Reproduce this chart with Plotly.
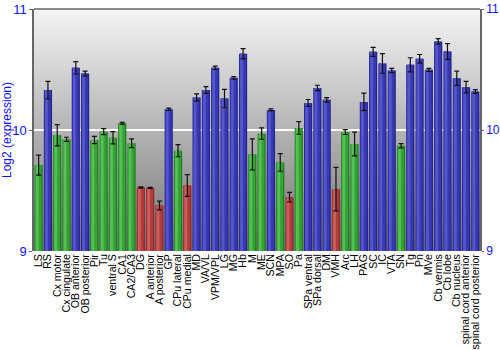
import base64
import plotly.graph_objects as go

# Brain regions along the x axis
regions = [
    "LS", "RS", "Cx motor", "Cx cingulate", "OB anterior", "OB posterior",
    "Pir", "Tu", "ventral S", "CA1", "CA2/CA3", "DG", "A anterior",
    "A posterior", "GP", "CPu lateral", "CPu medial", "MD", "VA/VL",
    "VPM/VPL", "LG", "MG", "Hb", "M", "ME", "SCN", "MPA", "SO", "Pa",
    "SPa ventral", "SPa dorsal", "DM", "VMH", "Arc", "LH", "PAG", "SC", "IC",
    "VTA", "SN", "Tg", "Pn", "MVe", "Cb vermis", "Cb lobe", "Cb nucleus",
    "spinal cord anterior", "spinal cord posterior",
]

# Mean log2 expression per region
expression = [
    9.71, 10.33, 9.956, 9.923, 10.514, 10.467,
    9.917, 9.986, 9.936, 10.055, 9.89, 9.525, 9.522,
    9.376, 10.171, 9.829, 9.541, 10.268, 10.331,
    10.514, 10.26, 10.431, 10.63, 9.798, 9.97, 10.166, 9.732, 9.445, 10.017,
    10.224, 10.348, 10.249, 9.511, 9.983, 9.884, 10.232, 10.646, 10.55,
    10.492, 9.87, 10.539, 10.588, 10.497, 10.732, 10.649, 10.428,
    10.354, 10.318,
]

# Standard error per region
stderr = [
    0.083, 0.072, 0.088, 0.017, 0.051, 0.02,
    0.03, 0.025, 0.05, 0.008, 0.036, 0.005, 0.005,
    0.036, 0.01, 0.05, 0.09, 0.03, 0.028,
    0.014, 0.076, 0.011, 0.043, 0.128, 0.047, 0.008, 0.073, 0.04, 0.052,
    0.028, 0.022, 0.019, 0.18, 0.02, 0.098, 0.072, 0.037, 0.081,
    0.018, 0.018, 0.058, 0.036, 0.012, 0.023, 0.065, 0.059,
    0.048, 0.015,
]

# Expression level class: low (red), mid (green), high (blue)
level = [
    "mid", "high", "mid", "mid", "high", "high",
    "mid", "mid", "mid", "mid", "mid", "low", "low",
    "low", "high", "mid", "low", "high", "high",
    "high", "high", "high", "high", "mid", "mid", "high", "mid", "low", "mid",
    "high", "high", "high", "low", "mid", "mid", "high", "high", "high",
    "high", "mid", "high", "high", "high", "high", "high", "high",
    "high", "high",
]

# Shades per level: edge, body, highlight
shades = {
    "low": ("#8e2a2a", "#b23c3c", "#cc5e5e"),
    "mid": ("#1f7d1f", "#34a334", "#55c055"),
    "high": ("#24248a", "#3838b4", "#5656cc"),
}

fig = go.Figure()

# Layered bars give each column a shaded, cylinder-like look
layers = [
    (0, 0.88, -0.44),
    (1, 0.68, -0.37),
    (2, 0.30, -0.31),
]
for idx, width, offset in layers:
    fig.add_trace(go.Bar(
        x=regions,
        y=expression,
        marker=dict(color=[shades[l][idx] for l in level], line=dict(width=0)),
        width=width,
        offset=offset,
        hoverinfo="skip" if idx else None,
        showlegend=False,
    ))

# Error bars on an invisible scatter
fig.add_trace(go.Scatter(
    x=regions,
    y=expression,
    mode="markers",
    marker=dict(size=0.1, color="rgba(0,0,0,0)"),
    error_y=dict(type="data", array=stderr, color="#111111",
                 thickness=1.2, width=2.5),
    showlegend=False,
))

# Mirror axis on the right
fig.add_trace(go.Scatter(x=[regions[0]], y=[9], yaxis="y2",
                         mode="markers", marker=dict(opacity=0),
                         showlegend=False, hoverinfo="skip"))

# Vertical gray gradient behind the plot area
svg = (
    '<svg xmlns="http://www.w3.org/2000/svg" width="10" height="100" '
    'preserveAspectRatio="none">'
    '<defs><linearGradient id="g" x1="0" y1="0" x2="0" y2="1">'
    '<stop offset="0" stop-color="#f4f4f4"/>'
    '<stop offset="1" stop-color="#737373"/>'
    '</linearGradient></defs>'
    '<rect width="10" height="100" fill="url(#g)"/></svg>'
)
bg_src = "data:image/svg+xml;base64," + base64.b64encode(svg.encode()).decode()

blue = "#1010ff"
fig.update_layout(
    width=500, height=350,
    margin=dict(l=34, r=20, t=9, b=99),
    paper_bgcolor="white",
    plot_bgcolor="#b8b8b8",
    barmode="overlay",
    font=dict(family="Liberation Sans, Arial, sans-serif", color="black"),
    images=[dict(source=bg_src, xref="paper", yref="paper", x=0, y=1,
                 sizex=1, sizey=1, sizing="stretch", layer="below",
                 xanchor="left", yanchor="top")],
    xaxis=dict(
        type="category",
        range=[-0.5, len(regions) - 0.5],
        tickmode="array",
        tickvals=regions,
        ticktext=regions,
        tickangle=-90,
        tickfont=dict(size=10.6, color="black"),
        ticks="",
        showgrid=False,
        showline=False,
        zeroline=False,
        automargin=False,
    ),
    yaxis=dict(
        range=[9, 11],
        tickvals=[9, 10, 11],
        ticktext=["9", "10", "11"],
        tickfont=dict(size=13, color=blue),
        ticks="outside", ticklen=3, tickcolor="#666666",
        showline=True, linecolor="#666666", linewidth=1.5,
        showgrid=True, gridcolor="white", gridwidth=1.5,
        zeroline=False,
        automargin=False,
        title=dict(text="Log2 (expression)", font=dict(size=12, color=blue),
                   standoff=4),
    ),
    yaxis2=dict(
        range=[9, 11],
        overlaying="y",
        side="right",
        tickvals=[9, 10, 11],
        ticktext=["9", "10", "11"],
        tickfont=dict(size=12, color=blue),
        ticks="outside", ticklen=2, tickcolor="#666666",
        showline=True, linecolor="#666666", linewidth=1.5,
        showgrid=False, zeroline=False,
        automargin=False,
    ),
    shapes=[dict(type="line", xref="paper", yref="paper", x0=0, x1=1,
                 y0=1, y1=1, line=dict(color="#666666", width=1.5))],
)

fig.write_html("out.html")
